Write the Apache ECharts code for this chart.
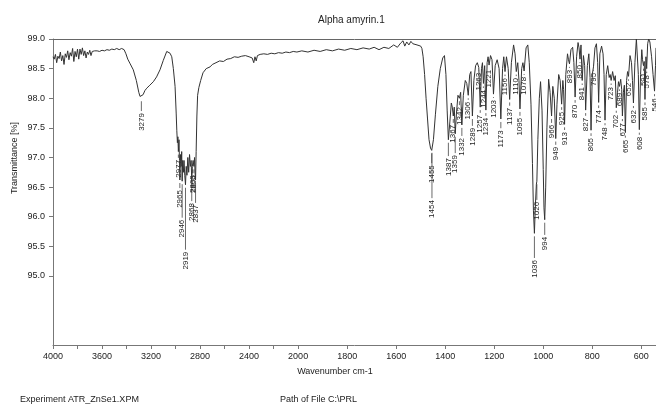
<!DOCTYPE html>
<html>
<head>
<meta charset="utf-8">
<script src="https://cdn.jsdelivr.net/npm/echarts@6/dist/echarts.min.js"></script>
<style>
  html, body { margin: 0; padding: 0; background: #fff; }
  #chart { width: 656px; height: 412px; }
</style>
</head>
<body>
<div id="chart"></div>
<script>
// spectrum: [wavenumber cm-1, transmittance %]
var spectrum = [
    [4000,98.70],[3990,98.66],[3980,98.74],[3970,98.60],[3960,98.71],[3950,98.67],[3940,98.78],[3930,98.63],
    [3920,98.72],[3910,98.57],[3900,98.75],[3890,98.69],[3880,98.80],[3870,98.65],[3860,98.77],[3850,98.71],
    [3840,98.84],[3830,98.62],[3820,98.79],[3810,98.70],[3800,98.83],[3790,98.66],[3780,98.83],[3770,98.74],
    [3760,98.85],[3750,98.72],[3740,98.80],[3730,98.68],[3720,98.78],[3710,98.74],[3700,98.81],[3690,98.72],
    [3680,98.79],[3670,98.76],[3660,98.80],[3650,98.77],[3640,98.80],[3620,98.79],[3600,98.81],[3580,98.80],
    [3560,98.82],[3540,98.81],[3520,98.83],[3500,98.82],[3480,98.84],[3460,98.82],[3440,98.84],[3420,98.82],
    [3405,98.75],[3390,98.66],[3370,98.58],[3345,98.48],[3320,98.30],[3300,98.10],[3290,98.03],[3279,98.00],
    [3265,98.06],[3250,98.13],[3235,98.17],[3210,98.22],[3181,98.28],[3155,98.36],[3127,98.48],[3100,98.64],
    [3072,98.79],[3059,98.80],[3045,98.76],[3031,98.70],[3018,98.50],[3004,98.20],[2995,97.75],[2990,97.46],
    [2985,97.25],[2981,97.35],[2977,97.10],[2972,97.30],[2968,96.95],[2965,96.62],[2960,97.05],[2955,96.85],
    [2950,97.10],[2946,96.60],[2942,96.95],[2936,96.75],[2931,96.95],[2925,96.70],[2919,96.54],[2913,96.85],
    [2907,96.70],[2900,97.00],[2893,96.75],[2886,97.05],[2879,96.85],[2873,96.95],[2868,96.60],[2863,96.85],
    [2857,96.95],[2850,96.85],[2845,97.00],[2841,96.75],[2837,96.62],[2832,97.10],[2826,97.70],[2820,98.05],
    [2810,98.18],[2795,98.30],[2776,98.43],[2750,98.50],[2718,98.53],[2700,98.57],[2670,98.60],[2640,98.63],
    [2610,98.62],[2580,98.66],[2550,98.67],[2520,98.70],[2490,98.69],[2460,98.71],[2430,98.72],[2400,98.70],
    [2375,98.68],[2362,98.60],[2352,98.70],[2342,98.63],[2332,98.72],[2310,98.74],[2280,98.75],[2250,98.74],
    [2220,98.76],[2190,98.75],[2160,98.77],[2130,98.76],[2100,98.78],[2070,98.77],[2040,98.79],[2010,98.78],
    [1985,98.80],[1960,98.78],[1935,98.81],[1910,98.79],[1885,98.82],[1860,98.80],[1835,98.83],[1810,98.81],
    [1785,98.84],[1760,98.82],[1735,98.85],[1710,98.83],[1690,98.86],[1670,98.82],[1650,98.86],[1630,98.84],
    [1610,98.90],[1595,98.86],[1582,98.93],[1572,98.97],[1565,98.88],[1557,98.95],[1548,98.90],[1540,98.96],
    [1532,98.92],[1524,98.95],[1515,98.90],[1507,98.92],[1500,98.88],[1495,98.84],[1490,98.70],[1484,98.40],
    [1478,98.00],[1472,97.65],[1466,97.30],[1460,97.16],[1455,97.12],[1454,97.13],[1448,97.30],[1440,97.72],
    [1430,98.20],[1420,98.50],[1410,98.68],[1403,98.72],[1397,98.40],[1392,97.80],[1387,97.30],[1381,97.60],
    [1375,97.92],[1371,97.85],[1367,97.70],[1363,97.85],[1359,97.40],[1354,97.75],[1348,98.05],[1342,98.00],
    [1337,98.10],[1332,97.55],[1326,98.05],[1318,98.30],[1312,98.25],[1306,98.05],[1300,98.40],[1295,98.45],
    [1289,97.70],[1283,98.30],[1276,98.55],[1269,98.60],[1263,98.52],[1260,98.55],[1257,97.85],[1252,98.50],
    [1248,98.60],[1244,98.25],[1239,98.55],[1234,97.80],[1229,98.60],[1225,98.70],[1221,98.56],[1215,98.72],
    [1209,98.65],[1203,98.07],[1196,98.55],[1188,98.65],[1180,98.50],[1173,97.65],[1166,98.50],[1161,98.70],
    [1156,98.45],[1150,98.70],[1143,98.50],[1137,97.98],[1130,98.60],[1121,98.90],[1115,98.75],[1110,98.45],
    [1104,98.60],[1099,98.30],[1095,97.82],[1088,98.50],[1083,98.60],[1078,98.46],[1070,98.85],[1063,98.90],
    [1057,98.60],[1050,97.90],[1044,96.90],[1040,96.10],[1036,95.72],[1032,96.20],[1028,96.55],[1026,96.60],
    [1022,97.30],[1016,98.00],[1011,98.28],[1005,97.80],[1000,96.80],[997,96.15],[994,95.95],[990,96.50],
    [985,97.50],[978,98.32],[972,98.10],[966,97.70],[961,98.20],[955,98.00],[949,97.32],[944,97.90],
    [937,98.40],[931,98.30],[925,97.90],[920,98.30],[917,98.15],[913,97.56],[908,98.40],[901,98.75],
    [897,98.65],[893,98.58],[887,98.82],[880,98.86],[875,98.60],[870,98.02],[864,98.70],[858,98.94],
    [854,98.85],[850,98.66],[846,98.90],[841,98.30],[836,98.72],[831,98.55],[827,97.80],[820,98.55],
    [814,98.75],[809,98.35],[805,97.46],[800,98.40],[795,98.53],[789,98.85],[783,98.92],[778,98.60],
    [774,97.93],[769,98.75],[762,98.88],[756,98.75],[752,98.40],[748,97.63],[743,98.40],[737,98.55],
    [731,98.35],[727,98.40],[723,98.30],[717,98.45],[711,98.30],[706,98.38],[702,97.84],[697,98.10],
    [693,98.28],[689,98.20],[684,98.32],[680,98.15],[677,97.70],[673,98.10],[669,98.22],[665,97.42],
    [660,98.30],[656,98.45],[652,98.37],[646,98.72],[640,98.60],[636,98.30],[632,97.92],[626,98.60],
    [620,99.00],[616,99.00],[612,98.40],[608,97.47],[603,98.40],[598,98.82],[595,98.65],[591,98.55],
    [588,98.62],[585,97.98],[581,98.70],[578,98.50],[574,98.92],[570,99.00],[565,98.95],[558,98.70],
    [552,98.40],[546,98.12],[542,98.55],[540,98.85]
];

// peak labels: [wavenumber, transmittance where the text starts]
var peakLabels = [
    [3279,97.75],[2977,96.96],[2965,96.45],[2946,95.95],[2919,95.41],[2868,96.23],[2863,96.70],
    [2850,96.70],[2837,96.20],
    [1455,96.87],[1454,96.28],[1387,96.99],[1367,97.55],[1359,97.04],[1342,97.85],[1332,97.33],
    [1306,97.94],[1289,97.50],[1263,98.43],[1257,97.72],[1244,98.14],[1234,97.67],[1221,98.48],
    [1203,97.97],[1173,97.46],[1156,98.34],[1137,97.84],[1110,98.34],[1095,97.67],[1078,98.36],
    [1036,95.27],[1026,96.25],[994,95.66],[966,97.55],[949,97.18],[925,97.77],[913,97.43],
    [893,98.48],[870,97.89],[850,98.56],[841,98.19],[827,97.67],[805,97.33],[795,98.43],
    [774,97.80],[748,97.51],[723,98.19],[702,97.72],[689,98.09],[677,97.58],[665,97.30],
    [652,98.26],[632,97.80],[608,97.35],[591,98.43],[585,97.85],[578,98.39],[546,98.00]
];

var xTickValues = [4000,3800,3600,3400,3200,3000,2800,2600,2400,2200,2000,1800,1600,1400,1200,1000,800,600];
var xLabelValues = [4000,3600,3200,2800,2400,2000,1800,1600,1400,1200,1000,800,600];
var yLabelValues = [95.0,95.5,96.0,96.5,97.0,97.5,98.0,98.5,99.0];
var xMin = 540, xMax = 4000;
var yMin = 93.835, yMax = 99.0;

// axis is compressed 2x above 2000 cm-1 (OPUS style scale break)
function toU(w) {
    return w >= 2000 ? (xMax - w) : (xMax - 2000) + 2 * (2000 - w);
}
function fromU(u) {
    return u <= 2000 ? xMax - u : 2000 - (u - 2000) / 2;
}

var FONT = '"Liberation Sans", Arial, sans-serif';
var chart = echarts.init(document.getElementById('chart'), null, { renderer: 'canvas' });

var lineData = spectrum.map(function (p) { return [toU(p[0]), p[1]]; });
var labelData = peakLabels.map(function (p) {
    var hit = spectrum.find(function (s) { return s[0] === p[0]; });
    return [toU(p[0]), hit ? hit[1] : p[1] + 0.2, p[1], String(p[0])];
});

var xCommon = {
    type: 'value',
    min: 0,
    max: toU(xMin),
    splitLine: { show: false }
};

var option = {
    animation: false,
    title: {
        text: 'Alpha amyrin.1',
        left: 313, top: 10,
        textStyle: { fontFamily: FONT, fontSize: 10, fontWeight: 'normal', color: '#222' }
    },
    grid: { left: 53, top: 39, right: 0, bottom: 67 },
    xAxis: [
        Object.assign({}, xCommon, {
            position: 'bottom',
            axisLine: { lineStyle: { color: '#777', width: 1 } },
            axisTick: {
                length: 4, inside: false,
                lineStyle: { color: '#777' },
                customValues: xTickValues.map(toU)
            },
            axisLabel: {
                customValues: xLabelValues.map(toU),
                formatter: function (u) { return String(Math.round(fromU(u))); },
                fontFamily: FONT, fontSize: 9, color: '#222', margin: 7
            }
        }),
        Object.assign({}, xCommon, {
            position: 'top',
            axisLine: { lineStyle: { color: '#666', width: 1 } },
            axisTick: { show: false },
            axisLabel: { show: false }
        })
    ],
    yAxis: {
        type: 'value',
        min: yMin, max: yMax,
        splitLine: { show: false },
        axisLine: { show: true, lineStyle: { color: '#777' } },
        axisTick: {
            show: true, length: 4,
            lineStyle: { color: '#777' },
            customValues: yLabelValues
        },
        axisLabel: {
            customValues: yLabelValues,
            formatter: function (v) { return v.toFixed(1); },
            fontFamily: FONT, fontSize: 9, color: '#222', margin: 8
        }
    },
    graphic: [
        { type: 'text', x: 15, y: 158, rotation: Math.PI / 2,
          style: { text: 'Transmittance [%]', font: '9px ' + FONT, fill: '#222', align: 'center', verticalAlign: 'middle' } },
        { type: 'text', x: 335, y: 372,
          style: { text: 'Wavenumber cm-1', font: '9px ' + FONT, fill: '#222', align: 'center', verticalAlign: 'middle' } },
        { type: 'text', x: 20, y: 400,
          style: { text: 'Experiment ATR_ZnSe1.XPM', font: '9px ' + FONT, fill: '#222', verticalAlign: 'middle' } },
        { type: 'text', x: 280, y: 400,
          style: { text: 'Path of File C:\\PRL', font: '9px ' + FONT, fill: '#222', verticalAlign: 'middle' } }
    ],
    series: [
        {
            type: 'line',
            data: lineData,
            showSymbol: false,
            symbol: 'none',
            lineStyle: { color: '#333', width: 1 },
            clip: true
        },
        {
            type: 'custom',
            data: labelData,
            renderItem: function (params, api) {
                var peak = api.coord([api.value(0), api.value(1)]);
                var txt = api.coord([api.value(0), api.value(2)]);
                var children = [];
                if (txt[1] - 2 > peak[1] + 3) {
                    children.push({
                        type: 'line',
                        shape: { x1: peak[0], y1: peak[1] + 3, x2: peak[0], y2: txt[1] - 2 },
                        style: { stroke: '#444', lineWidth: 0.8 }
                    });
                }
                children.push({
                    type: 'text',
                    x: txt[0], y: txt[1],
                    rotation: Math.PI / 2,
                    style: {
                        text: labelData[params.dataIndex][3],
                        font: '8px ' + FONT, fill: '#222',
                        align: 'right', verticalAlign: 'middle'
                    }
                });
                return { type: 'group', children: children };
            }
        }
    ]
};

chart.setOption(option);
</script>
</body>
</html>
